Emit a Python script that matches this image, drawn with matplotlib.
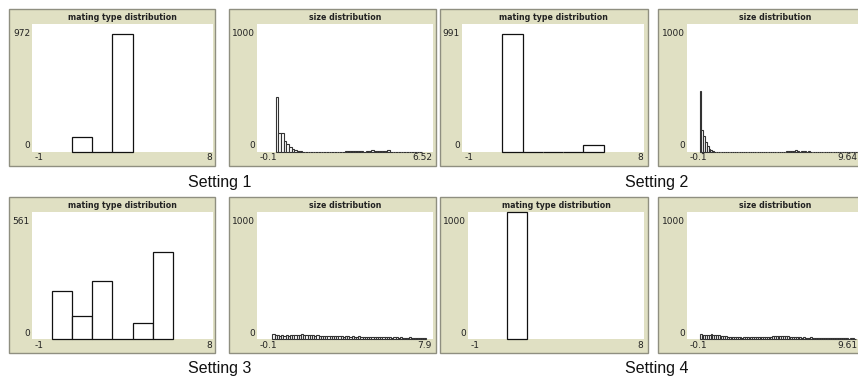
import matplotlib
matplotlib.use("Agg")
import matplotlib.pyplot as plt
from matplotlib.patches import Rectangle

# mating type histograms: first bin and counts per unit bin
mating_start = [1, 1, 0, 1]
mating1 = [121, 0, 972]
mating2 = [991, 0, 0, 0, 63]
mating3 = [228, 109, 279, 0, 75, 418]
mating4 = [1085]
mating_ymax = [972, 991, 561, 1000]

# size histograms: bins of 0.1 starting at 0.6
size_start = 0.6
size_bin = 0.1
size1 = [462, 160, 160, 95, 67, 45, 28, 17, 12, 10,
         0, 0, 0, 0, 0, 0, 0, 0, 0, 0, 0, 0, 0, 0, 0, 0,
         12, 10, 12, 8, 12, 10, 12, 0, 10, 12, 14, 10, 12, 10, 8, 12, 14,
         0, 0, 0, 0, 0, 0, 0, 0, 0, 0, 0, 0]
size2 = [513, 184, 136, 82, 48, 28, 17, 8,
         0, 0, 0, 0, 0, 0, 0, 0, 0, 0, 0, 0, 0, 0, 0, 0, 0, 0, 0, 0,
         0, 0, 0, 0, 0, 0, 0, 0, 0, 0, 0, 0, 0, 0, 0, 0, 0, 0, 0, 0,
         10, 12, 8, 12, 10, 14, 12, 0, 10, 8, 12, 0, 10,
         0, 0, 0, 0, 0, 0, 0, 0, 0, 0, 0, 0, 0, 0, 0, 0, 0, 0, 0, 0,
         0, 0, 0, 0, 0, 0, 0, 0, 0, 0]
size3 = [40, 30, 32, 28, 30, 26, 30, 28, 32, 30,
         34, 36, 38, 40, 36, 38, 34, 32, 30, 28,
         30, 28, 26, 28, 24, 26, 28, 24, 22, 26,
         24, 22, 20, 24, 22, 20, 22, 18, 20, 22,
         20, 18, 20, 16, 18, 20, 18, 16, 14, 16,
         18, 14, 16, 14, 12, 14, 16, 12, 14, 12,
         10, 12, 14, 10, 12, 8, 10, 12, 6, 8]
size4 = [42, 36, 38, 34, 36, 38, 40, 34, 36, 32,
         30, 28, 26, 24, 22, 20, 18, 16, 18, 16,
         14, 16, 14, 12, 14, 16, 14, 12, 14, 16,
         18, 16, 14, 16, 18, 20, 18, 16, 18, 20,
         22, 24, 22, 26, 24, 22, 26, 24, 22, 20,
         18, 20, 16, 14, 16, 14, 12, 14, 12, 10,
         12, 14, 10, 12, 10, 8, 10, 12, 10, 8,
         10, 8, 6, 8, 10, 8, 6, 8, 10, 6,
         8, 6, 4, 8, 6, 4]
size_xmax = [6.52, 9.64, 7.9, 9.61]
size_xlabels = ["6.52", "9.64", "7.9", "9.61"]

settings = ["Setting 1", "Setting 2", "Setting 3", "Setting 4"]

W, H = 858, 376
BEIGE = "#e0e0c3"
EDGE = "#8f8f80"

fig = plt.figure(figsize=(W / 100, H / 100), dpi=100)
fig.patch.set_facecolor("white")


def fx(x):
    return x / W


def fy(y):
    return 1 - y / H


def panel(frame, plot, title, xlab, ylab, xlim, ymax):
    fl, ft, fr, fb = frame
    fig.add_artist(Rectangle((fx(fl), fy(fb)), fx(fr - fl), (fb - ft) / H,
                             transform=fig.transFigure, facecolor=BEIGE,
                             edgecolor=EDGE, lw=1, zorder=-1))
    l, t, r, b = plot
    ax = fig.add_axes([fx(l), fy(b), fx(r - l), (b - t) / H])
    ax.set_xlim(*xlim)
    ax.set_ylim(0, ymax * 1.085)
    ax.set_axis_off()
    ax.add_patch(Rectangle((0, 0), 1, 1, transform=ax.transAxes,
                           facecolor="white", edgecolor="none", zorder=-1))
    fig.text(fx((l + r) / 2), fy(ft + 8), title, ha="center", va="center",
             fontsize=5.7, fontweight="bold", color="#222222")
    fig.text(fx(l - 2), fy(t + 9), ylab[1], ha="right", va="center",
             fontsize=6.5, color="#222222")
    fig.text(fx(l - 2), fy(b - 6), ylab[0], ha="right", va="center",
             fontsize=6.5, color="#222222")
    fig.text(fx(l + 3), fy(b + 6), xlab[0], ha="left", va="center",
             fontsize=6.5, color="#222222")
    fig.text(fx(min(r - 1, W - 1)), fy(b + 6), xlab[1], ha="right",
             va="center", fontsize=6.5, color="#222222")
    return ax


mating = [mating1, mating2, mating3, mating4]
sizes = [size1, size2, size3, size4]

rows_frame = [(9, 166), (197, 353)]
rows_plot = [(24, 152), (212, 339)]
frames_x = [(9, 215), (229, 436), (440, 648), (658, 866)]
plots_x = [[(32, 213), (257, 433), (462, 644), (687, 863)],
           [(32, 213), (257, 433), (468, 644), (687, 863)]]

for i in range(4):
    row = i // 2
    cm = (i % 2) * 2
    cs = cm + 1
    ft, fb = rows_frame[row]
    pt, pb = rows_plot[row]

    # mating type distribution
    ax = panel((frames_x[cm][0], ft, frames_x[cm][1], fb),
               (plots_x[row][cm][0], pt, plots_x[row][cm][1], pb),
               "mating type distribution", ("-1", "8"),
               ("0", str(mating_ymax[i])), (-1, 8), mating_ymax[i])
    xs = [mating_start[i] + k for k in range(len(mating[i]))]
    ax.bar(xs, mating[i], width=1, align="edge", facecolor="white",
           edgecolor="#111111", lw=0.9, clip_on=False)

    # size distribution
    ax = panel((frames_x[cs][0], ft, frames_x[cs][1], fb),
               (plots_x[row][cs][0], pt, plots_x[row][cs][1], pb),
               "size distribution", ("-0.1", size_xlabels[i]),
               ("0", "1000"), (-0.1, size_xmax[i]), 1000)
    xs = [size_start + k * size_bin for k in range(len(sizes[i]))]
    ax.bar(xs, sizes[i], width=size_bin, align="edge", facecolor="white",
           edgecolor="#333333", lw=0.8, clip_on=False)

    # setting label
    lx = 220 if i % 2 == 0 else 657
    ly = 182 if row == 0 else 369
    fig.text(fx(lx), fy(ly), settings[i], ha="center", va="center",
             fontsize=11.5, family="Liberation Sans", color="#111111")

fig.savefig("out.png", dpi=100)
